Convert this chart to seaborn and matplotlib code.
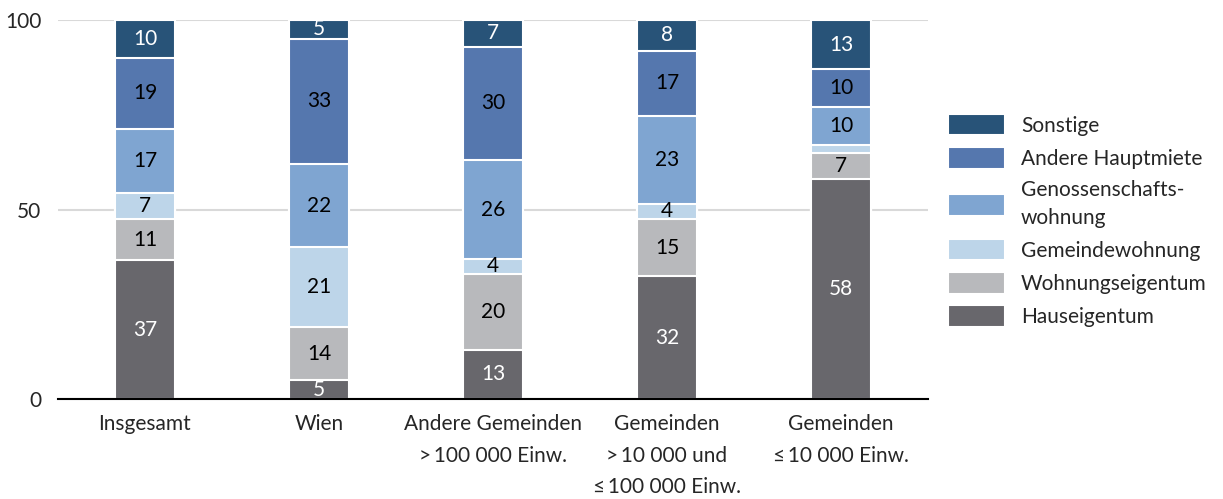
import matplotlib
matplotlib.use("Agg")
import matplotlib.pyplot as plt
import numpy as np
import pandas as pd
import seaborn as sns

# categories (x axis)
categories = ["Insgesamt", "Wien", "Andere Gemeinden\n>\u2009100 000 Einw.",
              "Gemeinden\n>\u200910 000 und\n\u2264\u2009100 000 Einw.",
              "Gemeinden\n\u2264\u200910 000 Einw."]

# segments, bottom to top
hauseigentum = [37, 5, 13, 32, 58]
wohnungseigentum = [11, 14, 20, 15, 7]
gemeindewohnung = [7, 21, 4, 4, 2]
genossenschaft = [17, 22, 26, 23, 10]
andere_hauptmiete = [19, 33, 30, 17, 10]
sonstige = [10, 5, 7, 8, 13]

segments = ["Hauseigentum", "Wohnungseigentum", "Gemeindewohnung",
            "Genossenschafts-\nwohnung", "Andere Hauptmiete", "Sonstige"]
seg_values = [hauseigentum, wohnungseigentum, gemeindewohnung,
              genossenschaft, andere_hauptmiete, sonstige]
colors = ["#68676c", "#b8b9bc", "#bdd5e9", "#7fa5d1", "#5577ae", "#285378"]
text_colors = ["white", "black", "black", "black", "black", "white"]

sns.set_style("white")
plt.rcParams["font.family"] = ["Lato", "DejaVu Sans"]
FS = 15

rows = []
for seg, vals in zip(segments, seg_values):
    for cat, v in zip(categories, vals):
        rows.append({"cat": cat, "seg": seg, "value": v})
df = pd.DataFrame(rows)
df["cum"] = df.groupby("cat", sort=False)["value"].cumsum()
# scale to 100 so each bar ends at the top line
tot = df.groupby("cat", sort=False)["value"].transform("sum")
df["cum_s"] = df["cum"] / tot * 100
df["bot_s"] = df["cum_s"] - df["value"] / tot * 100

fig = plt.figure(figsize=(12.23, 4.99), dpi=100)
ax = fig.add_axes([58 / 1223, 100 / 499, 870 / 1223, 379 / 499])

for seg, col in reversed(list(zip(segments, colors))):
    sub = df[df.seg == seg]
    sns.barplot(data=sub, x="cat", y="cum_s", color=col, width=0.345,
                saturation=1, edgecolor="white", linewidth=1.5, label=seg,
                ax=ax, order=categories, zorder=3)

# value labels
for seg, tc in zip(segments, text_colors):
    sub = df[df.seg == seg]
    for i, cat in enumerate(categories):
        r = sub[sub.cat == cat].iloc[0]
        if r["value"] < 3:
            continue
        ax.text(i, (r["cum_s"] + r["bot_s"]) / 2, str(r["value"]), ha="center",
                va="center", color=tc, fontsize=FS, zorder=5)

ax.set_ylim(0, 100)
ax.set_xlim(-0.5, 4.5)
ax.set_yticks([0, 50, 100])
ax.yaxis.grid(True, color="#d9d9d9", linewidth=1.5, zorder=0)
ax.set_axisbelow(True)
ax.set_xlabel("")
ax.set_ylabel("")
for s in ["left", "right", "top"]:
    ax.spines[s].set_visible(False)
ax.spines["bottom"].set_color("black")
ax.spines["bottom"].set_linewidth(1.5)
ax.spines["bottom"].set_zorder(4)
ax.tick_params(axis="both", length=0, labelsize=FS)
ax.tick_params(axis="y", pad=12)
ax.tick_params(axis="x", pad=11)
for lab in ax.get_xticklabels():
    lab.set_linespacing(1.72)

leg = ax.legend(loc="upper left", bbox_to_anchor=(1.023, 0.752), frameon=False,
                fontsize=FS, handlelength=2.75, handleheight=1.2,
                labelspacing=0.55, handletextpad=0.75, borderaxespad=0,
                borderpad=0)
for t in leg.get_texts():
    t.set_linespacing(1.45)

fig.savefig("out.png", dpi=100)
